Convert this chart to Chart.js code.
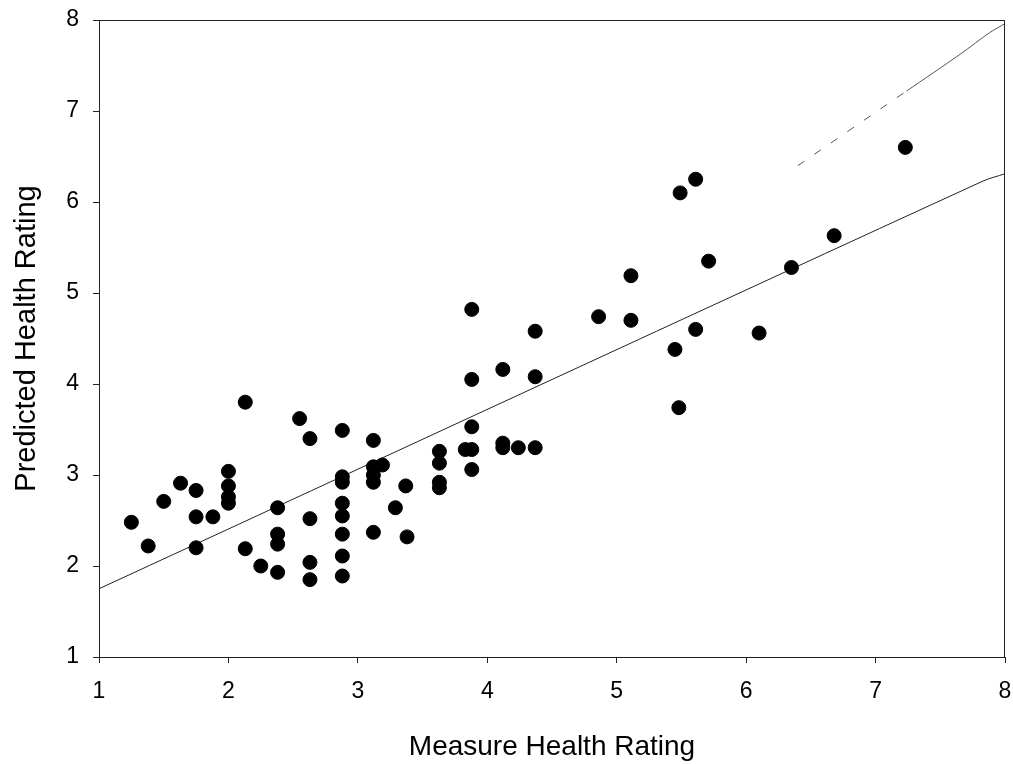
<!DOCTYPE html>
<html>
<head>
<meta charset="utf-8">
<script src="https://cdn.jsdelivr.net/npm/chart.js@4/dist/chart.umd.min.js"></script>
<style>
  html, body { margin: 0; padding: 0; background: #fff; }
  #wrap { width: 1013px; height: 764px; }
</style>
</head>
<body>
<div id="wrap"><canvas id="chart" width="1013" height="764"></canvas></div>
<script>
const measureX = [
  1.25, 1.38, 1.50, 1.63, 1.75, 1.75, 1.88, 1.75, 2.00, 2.00, 2.00, 2.00,
  2.13, 2.13, 2.25, 2.38, 2.38, 2.38, 2.38, 2.55, 2.63, 2.63, 2.63, 2.63,
  2.88, 2.88, 2.88, 2.88, 2.88, 2.88, 2.88, 2.88, 3.12, 3.12, 3.12, 3.12,
  3.19, 3.12, 3.29, 3.37, 3.38, 3.63, 3.63, 3.63, 3.63, 3.83, 3.88, 3.88,
  3.88, 3.88, 3.88, 4.12, 4.12, 4.12, 4.24, 4.37, 4.37, 4.37, 4.86, 5.11,
  5.11, 5.45, 5.48, 5.49, 5.61, 5.61, 5.71, 6.10, 6.35, 6.68, 7.23
];
const predictedY = [
  2.48, 2.22, 2.71, 2.91, 2.83, 2.54, 2.54, 2.20, 3.04, 2.88, 2.76, 2.69,
  3.80, 2.19, 2.00, 2.64, 2.35, 2.24, 1.93, 3.62, 3.40, 2.52, 2.04, 1.85,
  3.49, 2.98, 2.92, 2.69, 2.55, 2.35, 2.11, 1.89, 3.38, 3.09, 3.00, 2.92,
  3.11, 2.37, 2.64, 2.88, 2.32, 3.26, 3.13, 2.92, 2.86, 3.28, 3.28, 3.53,
  3.06, 4.05, 4.82, 4.16, 3.35, 3.30, 3.30, 3.30, 4.08, 4.58, 4.74, 5.19,
  4.70, 4.38, 3.74, 6.10, 6.25, 4.60, 5.35, 4.56, 5.28, 5.63, 6.60
];

// fitted line and the faint upper curve
const fitX = [1, 7.83, 8];
const fitY = [1.75, 6.23, 6.31];
const upperX = [6.40, 7.24, 7.66, 7.88, 8.0];
const upperY = [6.40, 7.22, 7.63, 7.86, 7.96];

const tickValues = [1, 2, 3, 4, 5, 6, 7, 8];

function toPoints(xs, ys) {
  return xs.map((x, i) => ({ x: x, y: ys[i] }));
}

const frame = {
  id: "frame",
  afterDraw(chart) {
    const { ctx, chartArea } = chart;
    ctx.save();
    ctx.strokeStyle = "#222";
    ctx.lineWidth = 1;
    ctx.strokeRect(chartArea.left + 0.5, chartArea.top + 0.5,
      chartArea.right - chartArea.left - 1, chartArea.bottom - chartArea.top);
    ctx.restore();
  }
};

const tickFont = { family: "'Liberation Sans', Arial, sans-serif", size: 23 };

new Chart(document.getElementById("chart"), {
  type: "scatter",
  data: {
    datasets: [
      {
        label: "Ratings",
        data: toPoints(measureX, predictedY),
        backgroundColor: "#000",
        borderColor: "#000",
        pointRadius: 7,
        pointHoverRadius: 7
      },
      {
        label: "Fit",
        data: toPoints(fitX, fitY),
        showLine: true,
        borderColor: "#222",
        borderWidth: 1,
        pointRadius: 0,
        tension: 0.3
      },
      {
        label: "Upper",
        data: toPoints(upperX, upperY),
        showLine: true,
        borderColor: "#555",
        borderWidth: 1,
        pointRadius: 0,
        tension: 0.3,
        segment: {
          borderDash: (c) => (c.p0DataIndex === 0 ? [8, 12] : undefined)
        }
      }
    ]
  },
  options: {
    responsive: false,
    animation: false,
    layout: { padding: { top: 20, right: -4, left: 0, bottom: 0 } },
    plugins: {
      legend: { display: false },
      tooltip: { enabled: false }
    },
    scales: {
      x: {
        type: "linear",
        min: 1,
        max: 8,
        afterBuildTicks: (scale) => {
          scale.ticks = tickValues.map((v) => ({ value: v }));
        },
        afterFit: (scale) => {
          scale.height = 107;
          scale.paddingLeft = 0;
          scale.paddingRight = 0;
        },
        grid: { drawOnChartArea: false, color: "#222", tickLength: 6 },
        border: { color: "#222" },
        ticks: { color: "#000", font: tickFont, padding: 15, maxRotation: 0 },
        title: {
          display: true,
          text: "Measure Health Rating",
          color: "#000",
          font: { family: "'Liberation Sans', Arial, sans-serif", size: 28 },
          padding: { top: 0, bottom: 0 }
        }
      },
      y: {
        type: "linear",
        min: 1,
        max: 8,
        afterBuildTicks: (scale) => {
          scale.ticks = tickValues.map((v) => ({ value: v }));
        },
        afterFit: (scale) => {
          scale.width = 99;
          scale.paddingTop = 0;
          scale.paddingBottom = 0;
        },
        grid: { drawOnChartArea: false, color: "#222", tickLength: 6 },
        border: { color: "#222" },
        ticks: { color: "#000", font: tickFont, padding: 14 },
        title: {
          display: true,
          text: "Predicted Health Rating",
          color: "#000",
          font: { family: "'Liberation Sans', Arial, sans-serif", size: 29 },
          padding: { top: 10, bottom: 0 }
        }
      }
    }
  },
  plugins: [frame]
});
</script>
</body>
</html>
